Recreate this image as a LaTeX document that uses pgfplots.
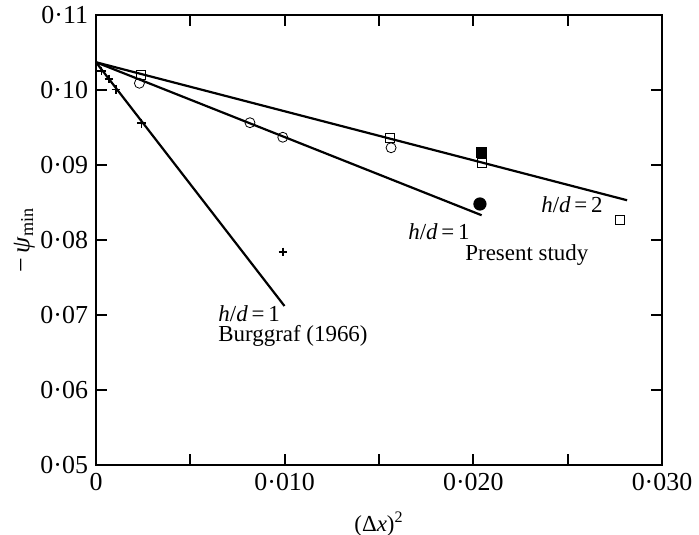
\documentclass[border=0pt]{standalone}
\usepackage{fontspec}
\setmainfont{Liberation Serif}
\usepackage{pgfplots}
\pgfplotsset{compat=1.18}

% open markers are white-filled so the lines seem to break at them
\pgfplotsset{
  fitline/.style={black, line width=1.1bp, no marks},
  pts/.style={only marks, black, mark options={line width=0.8bp, solid}},
}

\begin{document}
\fontsize{11.5}{13}\selectfont
\begin{tikzpicture}
\begin{axis}[
  scale only axis,
  width=283bp, height=225bp,
  xmin=0, xmax=0.03, ymin=0.05, ymax=0.11,
  xtick={0,0.005,0.010,0.015,0.020,0.025,0.030},
  xticklabels={0,,0·010,,0·020,,0·030},
  ytick={0.05,0.06,0.07,0.08,0.09,0.10,0.11},
  yticklabels={0·05,0·06,0·07,0·08,0·09,0·10,0·11},
  scaled x ticks=false, scaled y ticks=false,
  tick label style={font=\fontsize{13}{15}\selectfont},
  axis line style={line width=1.1bp},
  major tick style={line width=1.1bp, black},
  major tick length=5.5bp,
  xlabel={(Δ\textit{x})\textsuperscript{2}},
  ylabel={−\,\textit{ψ}\textsubscript{min}},
  xlabel style={yshift=-3bp},
  ylabel style={font=\fontsize{13}{15}\selectfont, yshift=-5bp},
  clip=false,
]
\coordinate (ll) at (rel axis cs:0,0);
\coordinate (ur) at (rel axis cs:1,1);

% fitted lines
\addplot[fitline] coordinates {(0,0.1037) (0.02815,0.0853)};  % present, h/d=2
\addplot[fitline] coordinates {(0,0.1037) (0.02044,0.0833)};  % present, h/d=1
\addplot[fitline] coordinates {(0,0.1037) (0.00999,0.0712)};  % Burggraf

% Burggraf (1966)
\addplot[pts, mark=+, mark size=2.2bp] coordinates {
  (0.0003,0.10253) (0.00069,0.10147) (0.00106,0.10009)
  (0.00242,0.09556) (0.00991,0.0784)
};
% present study h/d=1
\addplot[pts, mark=o, mark size=2.5bp, mark options={fill=white}] coordinates {
  (0.0023,0.1009) (0.00816,0.09564) (0.0099,0.0937) (0.01564,0.0923)
};
\addplot[pts, mark=*, mark size=2.9bp] coordinates {(0.02035,0.0848)};
% present study h/d=2
\addplot[pts, mark=square, mark size=2.3bp, mark options={fill=white}] coordinates {
  (0.00237,0.1020) (0.01558,0.09356) (0.02044,0.09023) (0.02777,0.08267)
};
\addplot[pts, mark=square*, mark size=2.3bp] coordinates {(0.02044,0.09164)};

\node[anchor=west, inner sep=0] at (axis cs:0.00647,0.0702) {\textit{h}/\textit{d}\,=\,1};
\node[anchor=west, inner sep=0] at (axis cs:0.00647,0.0672) {Burggraf (1966)};
\node[inner sep=0] at (axis cs:0.01818,0.0811) {\textit{h}/\textit{d}\,=\,1};
\node[anchor=west, inner sep=0] at (axis cs:0.01956,0.0780) {Present study};
\node[inner sep=0] at (axis cs:0.02523,0.0847) {\textit{h}/\textit{d}\,=\,2};
\end{axis}
\pgfresetboundingbox
\path ([shift={(-48bp,-35bp)}]ll) rectangle ([shift={(18.5bp,7.5bp)}]ur);
\end{tikzpicture}
\end{document}
